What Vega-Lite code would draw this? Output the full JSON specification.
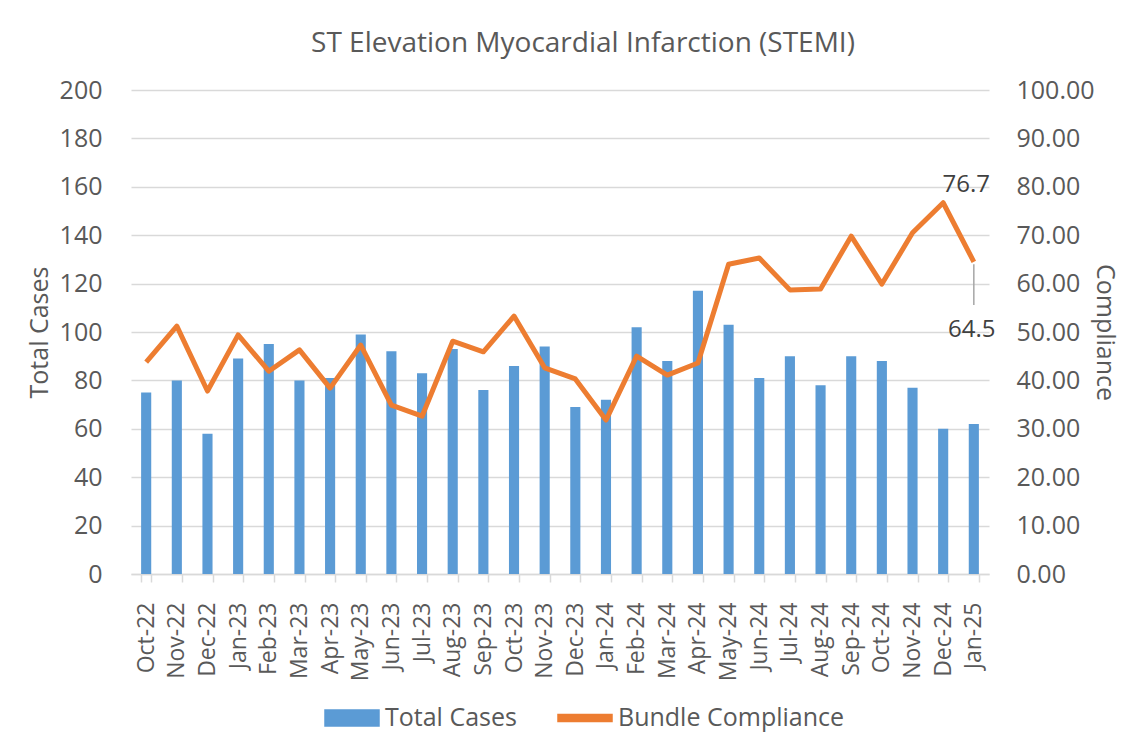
{
  "$schema": "https://vega.github.io/schema/vega-lite/v6.json",
  "width": 858,
  "height": 484,
  "autosize": {"type": "none"},
  "padding": {"left": 131, "top": 90, "right": 141, "bottom": 163},
  "background": "#ffffff",
  "title": {"text": "ST Elevation Myocardial Infarction (STEMI)", "font": "Open Sans", "fontSize": 28, "fontWeight": "normal", "color": "#595959", "offset": 20, "anchor": "middle", "dx": 23},
  "config": {
    "view": {"stroke": null},
    "font": "Open Sans",
    "axis": {"labelFont": "Open Sans", "titleFont": "Open Sans", "labelColor": "#595959", "titleColor": "#595959", "labelFontSize": 25, "titleFontSize": 25, "titleFontWeight": "normal", "gridColor": "#d9d9d9", "gridWidth": 1.5, "labelOverlap": false}
  },
  "data": {"values": [
    {"month": "Oct-22", "cases": 75, "compliance": 43.8},
    {"month": "Nov-22", "cases": 80, "compliance": 51.2},
    {"month": "Dec-22", "cases": 58, "compliance": 37.8},
    {"month": "Jan-23", "cases": 89, "compliance": 49.4},
    {"month": "Feb-23", "cases": 95, "compliance": 41.9},
    {"month": "Mar-23", "cases": 80, "compliance": 46.3},
    {"month": "Apr-23", "cases": 81, "compliance": 38.4},
    {"month": "May-23", "cases": 99, "compliance": 47.3},
    {"month": "Jun-23", "cases": 92, "compliance": 34.9},
    {"month": "Jul-23", "cases": 83, "compliance": 32.6},
    {"month": "Aug-23", "cases": 93, "compliance": 48.1},
    {"month": "Sep-23", "cases": 76, "compliance": 45.9},
    {"month": "Oct-23", "cases": 86, "compliance": 53.3},
    {"month": "Nov-23", "cases": 94, "compliance": 42.6},
    {"month": "Dec-23", "cases": 69, "compliance": 40.3},
    {"month": "Jan-24", "cases": 72, "compliance": 31.8},
    {"month": "Feb-24", "cases": 102, "compliance": 45.0},
    {"month": "Mar-24", "cases": 88, "compliance": 41.1},
    {"month": "Apr-24", "cases": 117, "compliance": 43.6},
    {"month": "May-24", "cases": 103, "compliance": 64.0},
    {"month": "Jun-24", "cases": 81, "compliance": 65.3},
    {"month": "Jul-24", "cases": 90, "compliance": 58.7},
    {"month": "Aug-24", "cases": 78, "compliance": 58.9},
    {"month": "Sep-24", "cases": 90, "compliance": 69.8},
    {"month": "Oct-24", "cases": 88, "compliance": 59.9},
    {"month": "Nov-24", "cases": 77, "compliance": 70.5},
    {"month": "Dec-24", "cases": 60, "compliance": 76.7},
    {"month": "Jan-25", "cases": 62, "compliance": 64.5}
  ]},
  "encoding": {
    "x": {"field": "month", "type": "nominal", "sort": null,
      "scale": {"paddingInner": 0.67, "paddingOuter": 0.33},
      "axis": {"title": null, "labelAngle": -90, "labelPadding": 20, "domainColor": "#d9d9d9", "domainWidth": 1.5, "tickColor": "#d9d9d9", "tickWidth": 1.5, "tickSize": 8, "tickBand": "extent", "grid": false, "labelFontSize": 23}}
  },
  "layer": [
    {
      "mark": {"type": "bar", "color": "#5B9BD5"},
      "encoding": {
        "y": {"field": "cases", "type": "quantitative", "scale": {"domain": [0, 200]},
          "axis": {"title": "Total Cases", "values": [0,20,40,60,80,100,120,140,160,180,200], "domain": false, "ticks": false, "labelPadding": 29, "titlePadding": 7}},
        "color": {"datum": "Total Cases", "type": "nominal",
          "scale": {"domain": ["Total Cases", "Bundle Compliance"], "range": ["#5B9BD5", "#ED7D31"]},
          "legend": {"title": null, "orient": "none", "legendX": 193, "legendY": 600, "direction": "horizontal",
            "labelFont": "Open Sans", "labelFontSize": 25, "labelColor": "#595959", "labelLimit": 400, "symbolSize": 2916, "labelOffset": 5, "columnPadding": 38,
            "encode": {"symbols": {"update": {
              "shape": {"signal": "datum.value === 'Total Cases' ? 'M-1,-0.3H1V0.3H-1Z' : 'M-1,-0.13H1V0.13H-1Z'"},
              "fill": {"scale": "color", "field": "value"},
              "stroke": {"value": "transparent"},
              "opacity": {"value": 1}
            }}}}}
      }
    },
    {
      "layer": [
        {
          "mark": {"type": "line", "color": "#ED7D31", "strokeWidth": 5, "strokeJoin": "round"},
          "encoding": {
            "y": {"field": "compliance", "type": "quantitative", "scale": {"domain": [0, 100]},
              "axis": {"orient": "right", "title": "Compliance", "format": ".2f", "values": [0,10,20,30,40,50,60,70,80,90,100], "domain": false, "ticks": false, "grid": false, "labelPadding": 27, "titlePadding": -3}},
            "color": {"datum": "Bundle Compliance", "type": "nominal"}
          }
        },
        {
          "transform": [{"filter": "datum.month === 'Dec-24'"}],
          "mark": {"type": "text", "font": "Open Sans", "fontSize": 24, "color": "#404040", "dy": -18, "dx": 23},
          "encoding": {
            "y": {"field": "compliance", "type": "quantitative"},
            "text": {"field": "compliance", "type": "quantitative", "format": ".1f"}
          }
        },
        {
          "transform": [{"filter": "datum.month === 'Jan-25'"}],
          "mark": {"type": "text", "font": "Open Sans", "fontSize": 24, "color": "#404040", "dy": 68, "dx": -2},
          "encoding": {
            "y": {"field": "compliance", "type": "quantitative"},
            "text": {"field": "compliance", "type": "quantitative", "format": ".1f"}
          }
        },
        {
          "transform": [{"filter": "datum.month === 'Jan-25'"}],
          "mark": {"type": "rule", "color": "#a6a6a6", "strokeWidth": 1.5},
          "encoding": {
            "y": {"datum": 64.0},
            "y2": {"datum": 55.6}
          }
        }
      ]
    }
  ],
  "resolve": {"scale": {"y": "independent"}}
}
